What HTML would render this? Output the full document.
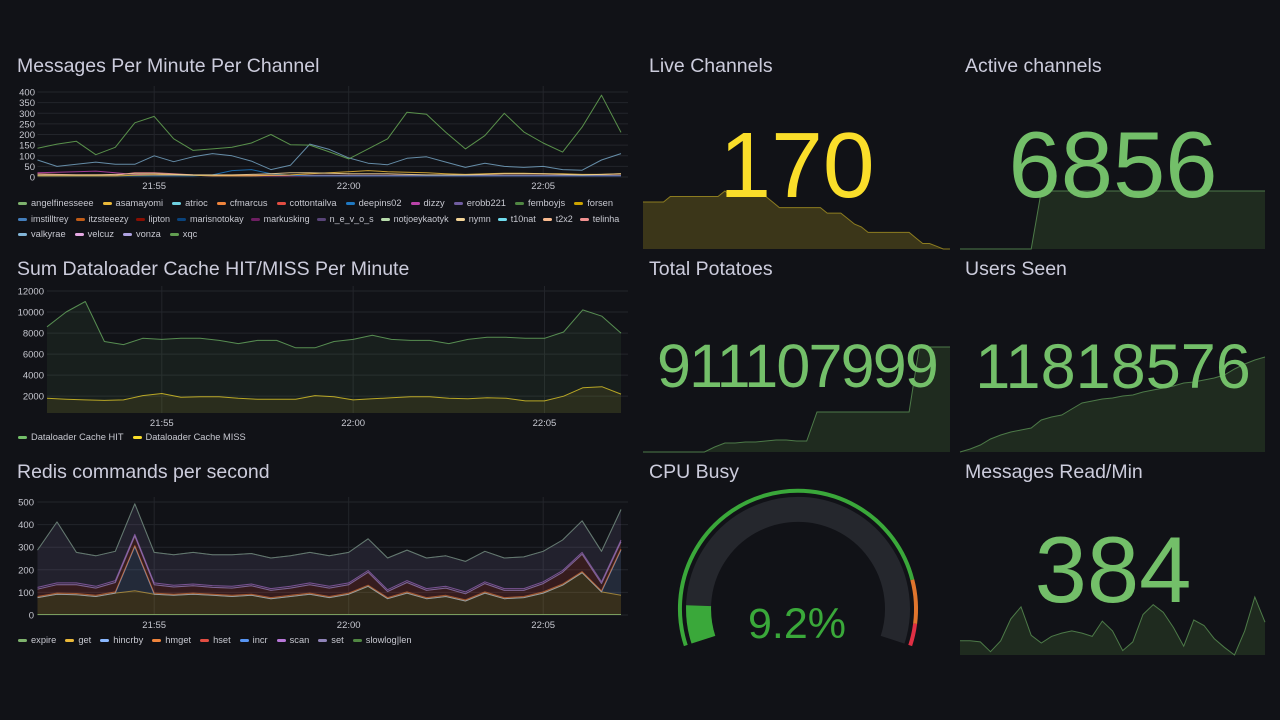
<!DOCTYPE html>
<html><head><meta charset="utf-8">
<style>
html,body{margin:0;padding:0;background:#111217;width:1280px;height:720px;overflow:hidden;font-family:"Liberation Sans",sans-serif;}
#chart-svg{position:absolute;left:0;top:0;}
.legend{position:absolute;display:flex;flex-wrap:nowrap;column-gap:9px;row-gap:4px;font-size:9.3px;color:#c7c8d0;line-height:11.5px;}
#leg1b{column-gap:7px;font-size:9px;}
.li{display:flex;align-items:center;white-space:nowrap;}
.mk{width:9px;height:3px;border-radius:2px;margin-right:4px;display:inline-block;}
</style></head>
<body>
<svg id="chart-svg" width="1280" height="720"></svg>

<div class="legend" id="leg1a" style="left:18px;top:198px;"></div>
<div class="legend" id="leg1b" style="left:18px;top:214px;"></div>
<div class="legend" id="leg1c" style="left:18px;top:229px;"></div>
<div class="legend" id="leg2" style="left:18px;top:432px;"></div>
<div class="legend" id="leg3" style="left:18px;top:635px;"></div>

<script>
// ---------- DATA ----------
const times = [2,2.5,3,3.5,4,4.5,5,5.5,6,6.5,7,7.5,8,8.5,9,9.5,10,10.5,11,11.5,12,12.5,13,13.5,14,14.5,15,15.5,16,16.5,17];
const timeTickLabels = ["21:55","22:00","22:05"];
const timeTickValues = [5,10,15];

const channelNames = ["angelfinesseee","asamayomi","atrioc","cfmarcus","cottontailva","deepins02","dizzy","erobb221","femboyjs","forsen","imstilltrey","itzsteeezy","lipton","marisnotokay","markusking","n_e_v_o_s","notjoeykaotyk","nymn","t10nat","t2x2","telinha","valkyrae","velcuz","vonza","xqc"];
const channelColors = ["#7EB26D","#EAB839","#6ED0E0","#EF843C","#E24D42","#1F78C1","#BA43A9","#705DA0","#508642","#CCA300","#447EBC","#C15C17","#890F02","#0A437C","#6D1F62","#584477","#B7DBAB","#F4D598","#70DBED","#F9BA8F","#F29191","#82B5D8","#E5A8E2","#AEA2E0","#629E51"];
const xqcValues = [135,155,168,105,140,255,285,180,125,132,140,160,200,152,150,118,85,132,180,305,295,210,132,195,300,212,160,117,235,385,210];
const valkyraeValues = [80,50,60,70,60,60,100,72,95,110,100,75,35,55,155,130,90,65,58,88,95,70,45,65,50,45,50,35,32,80,110];
const asamayomiValues = [5,5,5,5,5,8,10,10,8,5,5,5,8,10,15,20,25,30,25,22,20,15,12,15,18,18,15,15,12,12,15];
const dizzyValues = [20,22,25,28,20,12,10,8,8,5,5,5,5,5,5,5,5,5,5,5,5,5,5,5,5,5,5,5,5,5,5];
const telinhaValues = [15,12,10,10,8,20,20,15,10,8,8,8,8,8,8,8,8,8,8,8,8,8,8,8,8,8,8,8,8,8,8];
const deepinsValues = [5,5,5,5,5,5,5,5,5,10,30,35,15,8,5,5,5,5,5,5,5,5,5,5,5,5,5,5,5,5,5];
const nymnValues = [10,10,10,10,12,15,15,12,10,10,10,12,15,20,20,18,15,15,15,12,10,10,10,12,15,15,15,12,10,12,15];
const msgTicks = [0,50,100,150,200,250,300,350,400];

const cacheHit = [8600,10000,11000,7200,6900,7500,7400,7500,7500,7300,7000,7300,7300,6600,6600,7200,7400,7800,7400,7300,7300,7000,7400,7600,7600,7500,7500,8100,10200,9600,8000];
const cacheMiss = [1800,1700,1650,1600,1650,2050,2250,1900,1950,1950,1800,1700,1700,1700,2050,1950,1650,1750,1850,1950,1950,1800,1750,1850,1800,1550,1550,2000,2800,2900,2200];
const cacheTicks = [2000,4000,6000,8000,10000,12000];

const redisNames = ["expire","get","hincrby","hmget","hset","incr","scan","set","slowlog|len"];
const redisColors = ["#7EB26D","#EAB839","#8AB8FF","#EF843C","#E24D42","#5794F2","#B877D9","#8F83B8","#508642"];
const redisExpire = [2,2,2,2,2,2,2,2,2,2,2,2,2,2,2,2,2,2,2,2,2,2,2,2,2,2,2,2,2,2,2];
const redisGet = [75,90,88,80,95,105,90,85,90,85,80,85,70,80,90,75,90,125,70,95,70,80,60,95,70,75,95,130,185,100,85];
const redisHincrby = [0,0,0,0,0,195,0,0,0,0,0,0,0,0,0,0,0,0,0,0,0,0,0,0,0,0,0,0,0,0,200];
const redisHmget = [5,5,5,5,5,5,5,5,5,5,5,5,5,5,5,5,5,5,5,5,5,5,5,5,5,5,5,5,5,5,5];
const redisHset = [32,37,39,32,42,42,37,32,32,30,32,37,32,32,37,37,37,57,27,42,32,32,27,37,32,27,37,52,77,32,32];
const redisIncr = [0,0,0,0,0,0,0,0,0,0,0,0,0,0,0,0,0,0,0,0,0,0,0,0,0,0,0,0,0,0,0];
const redisScan = [8,8,8,8,8,8,8,8,8,8,8,8,8,8,8,8,8,8,8,8,8,8,8,8,8,8,8,8,8,8,8];
const redisSet = [165,270,135,135,130,135,135,135,140,137,140,135,135,135,135,135,135,140,140,135,135,135,135,135,135,140,135,135,140,135,135];
const redisSlowlog = [0,0,0,0,0,0,0,0,0,0,0,0,0,0,0,0,0,0,0,0,0,0,0,0,0,0,0,0,0,0,0];
const redisTicks = [0,100,200,300,400,500];

const liveChannelsValue = "170";
const liveChannelsSpark = [187,187,187,187,189,189,189,189,189,189,189,189,191,189,189,189,189,189,189,187,185,185,185,185,185,185,185,183,183,183,181,179,178,176,176,176,176,176,176,176,174,172,172,171,170,170];
const activeChannelsValue = "6856";
const activeChannelsSpark = [6400,6400,6400,6400,6400,6400,6400,6400,6856,6856,6856,6856,6856,6856,6856,6856,6856,6856,6856,6856,6856,6856,6856,6856,6856,6856,6856,6856,6856,6856,6856];
const potatoesValue = "911107999";
const potatoesSpark = [0,0,0,0,0,0,0,5,9,9,10,10,11,12,12,11,11,40,40,40,40,40,40,40,40,40,40,105,105,105,105];
const usersValue = "11818576";
const usersSpark = [0,3,7,13,17,20,22,24,32,35,37,43,49,51,53,54,56,57,60,62,64,66,69,70,72,74,77,83,88,92,95];
const readValue = "384";
const readSpark = [16,16,15,6,16,36,47,21,14,20,23,25,23,20,34,25,7,15,40,49,42,28,11,35,30,18,10,3,25,56,33];
const cpuValue = 9.2;
const cpuThresholds = [85,95];

// ---------- HELPERS ----------
const NS = 'http://www.w3.org/2000/svg';
const svg = document.getElementById('chart-svg');
function mk(tag, attrs, parent) {
  const e = document.createElementNS(NS, tag);
  for (const k in attrs) e.setAttribute(k, attrs[k]);
  (parent || svg).appendChild(e);
  return e;
}
function txt(x, y, s, size, fill, anchor, parent) {
  const t = mk('text', {x: x, y: y, 'font-size': size, fill: fill, 'text-anchor': anchor || 'start', 'font-family': '"Liberation Sans", sans-serif'}, parent);
  t.textContent = s;
  return t;
}
function pathFrom(pts) { return pts.map((p, i) => (i ? 'L' : 'M') + p[0].toFixed(1) + ' ' + p[1].toFixed(1)).join(' '); }

// titles
const titles = [[17,72,"Messages Per Minute Per Channel"],[17,275,"Sum Dataloader Cache HIT/MISS Per Minute"],[17,478,"Redis commands per second"],[649,72,"Live Channels"],[965,72,"Active channels"],[649,275,"Total Potatoes"],[965,275,"Users Seen"],[649,478,"CPU Busy"],[965,478,"Messages Read/Min"]];
titles.forEach(t => {
  const el = txt(t[0], t[1], t[2], 19.5, '#ccccdc');
  
  
});

function timeChart(cfg) {
  const g = mk('g', {});
  
  
  const xs = t => cfg.x0 + (t - times[0]) / (times[times.length-1] - times[0]) * (cfg.x1 - cfg.x0);
  const ys = v => cfg.yb - (v - cfg.vmin) / (cfg.vmax - cfg.vmin) * (cfg.yb - cfg.yt);
  cfg.ticks.forEach(v => {
    const ln = mk('line', {x1: cfg.x0, x2: cfg.gr, y1: ys(v), y2: ys(v), stroke: '#23252b', 'stroke-width': 1}, g);
    
    
    const lb = txt(cfg.lx, ys(v) + 3.5, String(v), 9.5, '#c7c8d0', 'end', g);
    
    
  });
  timeTickValues.forEach((t, i) => {
    const ln = mk('line', {x1: xs(t), x2: xs(t), y1: cfg.gt, y2: cfg.yb, stroke: '#23252b', 'stroke-width': 1}, g);
    
    
    const lb = txt(xs(t), cfg.xly, timeTickLabels[i], 9.5, '#c7c8d0', 'middle', g);
    
    
  });
  let base = times.map(() => 0);
  cfg.series.forEach(s => {
    const top = s.values.map((v, i) => cfg.stack ? base[i] + v : v);
    const bot = cfg.stack ? base.slice() : times.map(() => cfg.vmin);
    if (s.fill) {
      const pts = times.map((t, i) => [xs(t), ys(top[i])]).concat(times.map((t, i) => [xs(t), ys(Math.max(bot[i], cfg.vmin))]).reverse());
      const a = mk('path', {d: pathFrom(pts) + 'Z', fill: s.color, 'fill-opacity': s.fill, stroke: 'none'}, g);
      
      
    }
    const l = mk('path', {d: pathFrom(times.map((t, i) => [xs(t), ys(top[i])])), fill: 'none', stroke: s.color, 'stroke-width': 1, 'stroke-opacity': s.op || 0.85, 'stroke-linejoin': 'round'}, g);
    
    
    if (cfg.stack) base = top;
  });
}

timeChart({name: 'messages-chart', x0: 37.5, x1: 621, gr: 628, gt: 86, yb: 177, yt: 92, vmin: 0, vmax: 400, lx: 35, xly: 189, ticks: msgTicks,
  series: [
    {values: dizzyValues, color: channelColors[6]},
    {values: telinhaValues, color: channelColors[20]},
    {values: deepinsValues, color: channelColors[5]},
    {values: asamayomiValues, color: channelColors[1]},
    {values: nymnValues, color: channelColors[17]},
    {values: valkyraeValues, color: channelColors[21], op: 0.75},
    {values: xqcValues, color: channelColors[24], op: 0.9}
  ]});

timeChart({name: 'cache-chart', x0: 47, x1: 621, gr: 628, gt: 286, yb: 413, yt: 291, vmin: 400, vmax: 12000, lx: 44, xly: 426, ticks: cacheTicks,
  series: [
    {values: cacheHit, color: '#73BF69', fill: 0.08, op: 0.7},
    {values: cacheMiss, color: '#FADE2A', fill: 0.08, op: 0.7}
  ]});

timeChart({name: 'redis-chart', x0: 37.5, x1: 621, gr: 628, gt: 497, yb: 615, yt: 502, vmin: 0, vmax: 500, lx: 34, xly: 628, ticks: redisTicks, stack: true,
  series: [
    {values: redisExpire, color: redisColors[0]},
    {values: redisGet, color: redisColors[1], fill: 0.18, op: 0.6},
    {values: redisHincrby, color: redisColors[2], fill: 0.15, op: 0.6},
    {values: redisHmget, color: redisColors[3], fill: 0.2, op: 0.6},
    {values: redisHset, color: redisColors[4], fill: 0.18, op: 0.6},
    {values: redisIncr, color: redisColors[5], op: 0.5},
    {values: redisScan, color: redisColors[6], fill: 0.15, op: 0.6},
    {values: redisSet, color: redisColors[7], fill: 0.14, op: 0.8},
    {values: redisSlowlog, color: redisColors[8], op: 0.5}
  ]});

// legends
function legend(id, names, colors) {
  const box = document.getElementById(id);
  names.forEach((n, i) => {
    const it = document.createElement('div');
    it.className = 'li';
    
    
    it.innerHTML = '<span class="mk" style="background:' + colors[i] + '"></span>' + n;
    box.appendChild(it);
  });
}
legend('leg1a', channelNames.slice(0, 10), channelColors.slice(0, 10));
legend('leg1b', channelNames.slice(10, 21), channelColors.slice(10, 21));
legend('leg1c', channelNames.slice(21), channelColors.slice(21));
legend('leg2', ["Dataloader Cache HIT","Dataloader Cache MISS"], ["#73BF69","#FADE2A"]);
legend('leg3', redisNames, redisColors);

// stat panels
function stat(cfg) {
  const g = mk('g', {});
  
  
  const mn = Math.min(...cfg.spark), mx = Math.max(...cfg.spark);
  const n = cfg.spark.length;
  const pts = cfg.spark.map((v, i) => [cfg.x0 + i / (n - 1) * (cfg.x1 - cfg.x0), cfg.yb - (v - mn) / (mx - mn) * cfg.h]);
  const a = mk('path', {d: pathFrom(pts.concat([[cfg.x1, cfg.yb], [cfg.x0, cfg.yb]])) + 'Z', fill: cfg.fill, stroke: 'none'}, g);
  
  
  const l = mk('path', {d: pathFrom(pts), fill: 'none', stroke: cfg.line, 'stroke-width': 1}, g);
  
  
  const t = txt(cfg.cx, cfg.by, cfg.value, cfg.fs, cfg.color, 'middle', g);
  if (cfg.ls) t.setAttribute('letter-spacing', cfg.ls);
  
  
}
stat({name: 'live-channels-stat', value: liveChannelsValue, spark: liveChannelsSpark, x0: 643, x1: 950, yb: 249, h: 58, cx: 797, by: 197, fs: 93, color: '#FADE2A', fill: '#3b3619', line: '#8c7c20'});
stat({name: 'active-channels-stat', value: activeChannelsValue, spark: activeChannelsSpark, x0: 960, x1: 1265, yb: 249, h: 58, cx: 1113, by: 197, fs: 94, color: '#73BF69', fill: '#1f2b1f', line: '#4d7a48'});
stat({name: 'total-potatoes-stat', value: potatoesValue, spark: potatoesSpark, x0: 643, x1: 950, yb: 452, h: 105, cx: 797, by: 387, fs: 61, ls: -1.8, color: '#73BF69', fill: '#1f2b1f', line: '#4d7a48'});
stat({name: 'users-seen-stat', value: usersValue, spark: usersSpark, x0: 960, x1: 1265, yb: 452, h: 95, cx: 1113, by: 388, fs: 63, color: '#73BF69', fill: '#1f2b1f', line: '#4d7a48'});
stat({name: 'messages-read-stat', value: readValue, spark: readSpark, x0: 960, x1: 1265, yb: 655, h: 58, cx: 1113, by: 602, fs: 94, color: '#73BF69', fill: '#1f2b1f', line: '#4d7a48'});

// gauge
const cx = 798, cy = 609;
function arc(r, a1, a2) {
  const p = a => [cx + r * Math.cos(a * Math.PI / 180), cy - r * Math.sin(a * Math.PI / 180)];
  const s = p(a1), e = p(a2);
  const large = Math.abs(a1 - a2) > 180 ? 1 : 0;
  return 'M' + s[0].toFixed(1) + ' ' + s[1].toFixed(1) + ' A' + r + ' ' + r + ' 0 ' + large + ' 1 ' + e[0].toFixed(1) + ' ' + e[1].toFixed(1);
}
const START = 198, SPAN = 216;
const ang = f => START - SPAN * f / 100;
const gg = mk('g', {});


const band = mk('path', {d: arc(99.5, ang(0), ang(100)), stroke: '#25272d', 'stroke-width': 25, fill: 'none'}, gg);


const val = mk('path', {d: arc(99.5, ang(0), ang(cpuValue)), stroke: '#3aa83a', 'stroke-width': 25, fill: 'none'}, gg);


const thr = [[0, cpuThresholds[0], '#3aa83a'], [cpuThresholds[0], cpuThresholds[1], '#e0752d'], [cpuThresholds[1], 100, '#e02f44']];
thr.forEach(t => {
  const p = mk('path', {d: arc(118, ang(t[0]), ang(t[1])), stroke: t[2], 'stroke-width': 4, fill: 'none'}, gg);
  
  
});
const gt = txt(797, 638, cpuValue.toFixed(1) + '%', 43, '#3aa83a', 'middle', gg);


</script>
</body></html>
